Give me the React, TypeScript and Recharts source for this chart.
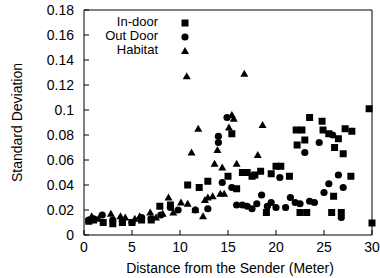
import React from 'react'
import { ScatterChart, Scatter, XAxis, YAxis } from 'recharts'

const FONT = '"Liberation Sans", Arial, Helvetica, sans-serif'

const xTicks = [0, 5, 10, 15, 20, 25, 30]
const yTicks = [0, 0.02, 0.04, 0.06, 0.08, 0.1, 0.12, 0.14, 0.16, 0.18]

const seriesNames = ['In-door', 'Out Door', 'Habitat']

// [distance, std dev]
const indoor = [
  [0.5, 0.011], [1, 0.012], [2, 0.01], [3, 0.009], [4, 0.01], [5, 0.01], [6, 0.012], [7, 0.012],
  [7.9, 0.023], [9, 0.024], [10.8, 0.04], [12, 0.038], [12.9, 0.043], [15, 0.047], [15.4, 0.081],
  [15.9, 0.037], [16.5, 0.05], [17, 0.05], [17.5, 0.047], [17.8, 0.048], [18.4, 0.051], [19, 0.018],
  [19.5, 0.049], [20, 0.055], [20.5, 0.055], [21.4, 0.047], [22.1, 0.084], [22.2, 0.072], [22.5, 0.018],
  [22.7, 0.084], [23, 0.076], [23.2, 0.018], [23.5, 0.094], [24.8, 0.091], [24.9, 0.084], [25.5, 0.081],
  [25.8, 0.018], [26, 0.031], [26.1, 0.07], [26.5, 0.077], [26.8, 0.018], [27, 0.065], [27.2, 0.085],
  [27.8, 0.047], [27.9, 0.083], [29.7, 0.101], [30, 0.0096],
]

const outdoor = [
  [0.5, 0.012], [1, 0.013], [1.9, 0.016], [3, 0.012], [4, 0.011], [5, 0.01], [6, 0.014], [7, 0.013],
  [8, 0.016], [9, 0.022], [9.8, 0.02], [11.6, 0.02], [12.9, 0.021], [14, 0.074], [14, 0.079],
  [14.4, 0.042], [14.9, 0.094], [15.4, 0.038], [15.9, 0.024], [16.5, 0.024], [17, 0.023], [17.5, 0.021],
  [18, 0.025], [18.5, 0.032], [19.1, 0.023], [19.5, 0.026], [20, 0.022], [20.4, 0.046], [21, 0.022],
  [21.5, 0.03], [22, 0.026], [22.5, 0.025], [23, 0.066], [23.5, 0.027], [24, 0.026], [24.5, 0.074],
  [25, 0.034], [25.5, 0.041], [25.9, 0.08], [26.5, 0.048], [26.8, 0.014], [27, 0.038],
]

const habitat = [
  [0.5, 0.012], [0.8, 0.015], [1.5, 0.013], [2.8, 0.017], [3.8, 0.015], [4.3, 0.014], [5.3, 0.013],
  [5.8, 0.015], [6.9, 0.018], [7.5, 0.014], [8.2, 0.017], [8.8, 0.03], [9.3, 0.018], [10.1, 0.026],
  [10.7, 0.127], [10.8, 0.025], [11.2, 0.066], [11.6, 0.02], [11.9, 0.085], [12.4, 0.015], [12.6, 0.028],
  [12.9, 0.03], [13.4, 0.031], [13.6, 0.057], [13.9, 0.068], [14.2, 0.033], [14.4, 0.054], [14.6, 0.033],
  [15.1, 0.086], [15.4, 0.096], [15.6, 0.093], [15.9, 0.057], [16.7, 0.129], [18.1, 0.064], [18.6, 0.088],
]

const toPts = (arr: number[][]) => arr.map(([x, y]) => ({ x, y }))

const SquareShape = (props: any) => {
  const { cx, cy } = props
  return <rect x={cx - 3.5} y={cy - 3.5} width={7} height={7} fill='#000' />
}

const CircleShape = (props: any) => {
  const { cx, cy } = props
  return <circle cx={cx} cy={cy} r={3.6} fill='#000' />
}

const TriangleShape = (props: any) => {
  const { cx, cy } = props
  return <polygon points={`${cx},${cy - 4} ${cx + 4},${cy + 3} ${cx - 4},${cy + 3}`} fill='#000' />
}

const textStyle = { fontFamily: FONT, fontSize: 14, fill: '#000' }

const BottomTick = ({ x, y, payload }: any) => (
  <g>
    <line x1={x} y1={y} x2={x} y2={y - 5} stroke='#000' />
    <text x={x} y={y + 12} textAnchor='middle' dominantBaseline='central' style={textStyle}>
      {payload.value}
    </text>
  </g>
)

const TopTick = ({ x, y }: any) => <line x1={x} y1={y} x2={x} y2={y + 5} stroke='#000' />

const LeftTick = ({ x, y, payload }: any) => (
  <g>
    <line x1={x} y1={y} x2={x + 5} y2={y} stroke='#000' />
    <text x={x - 10} y={y} textAnchor='end' dominantBaseline='central' style={textStyle}>
      {payload.value}
    </text>
  </g>
)

const RightTick = ({ x, y }: any) => <line x1={x} y1={y} x2={x - 5} y2={y} stroke='#000' />

const YLabel = ({ viewBox }: any) => {
  const x = viewBox.x + 17
  const y = viewBox.y + viewBox.height / 2
  return (
    <text x={x} y={y} transform={`rotate(-90 ${x} ${y})`} textAnchor='middle' dominantBaseline='central' style={textStyle}>
      Standard Deviation
    </text>
  )
}

const XLabel = ({ viewBox }: any) => {
  const x = viewBox.x + viewBox.width / 2 + 2
  const y = viewBox.y + 33
  return (
    <text x={x} y={y} textAnchor='middle' dominantBaseline='central' style={textStyle}>
      Distance from the Sender (Meter)
    </text>
  )
}

const markers = [
  <svg width={10} height={10} key='sq'><rect x={1.5} y={1.5} width={7} height={7} fill='#000' /></svg>,
  <svg width={10} height={10} key='ci'><circle cx={5} cy={5} r={3.6} fill='#000' /></svg>,
  <svg width={10} height={10} key='tr'><polygon points='5,1 9,8 1,8' fill='#000' /></svg>,
]

const Legend = () => (
  <div style={{ position: 'absolute', left: 0, top: 14.5, fontFamily: FONT, fontSize: 13 }}>
    {seriesNames.map((name, i) => (
      <div key={name} style={{ height: 14, lineHeight: '14px', display: 'flex', alignItems: 'center' }}>
        <span style={{ display: 'inline-block', width: 158, textAlign: 'right' }}>{name}</span>
        <span style={{ display: 'inline-block', marginLeft: 22, width: 10, height: 10 }}>{markers[i]}</span>
      </div>
    ))}
  </div>
)

export default function App() {
  return (
    <div style={{ position: 'absolute', left: 0, top: 0, width: 380, height: 278, background: '#fff' }}>
      <ScatterChart width={380} height={278} margin={{ top: 0, right: 0, bottom: 0, left: 0 }}>
        <XAxis
          xAxisId='b'
          type='number'
          dataKey='x'
          domain={[0, 30]}
          ticks={xTicks}
          height={43}
          tickSize={0}
          tickMargin={0}
          tick={<BottomTick />}
          axisLine={{ stroke: '#000' }}
          tickLine={false}
          label={<XLabel />}
        />
        <XAxis
          xAxisId='t'
          orientation='top'
          type='number'
          dataKey='x'
          domain={[0, 30]}
          ticks={xTicks}
          height={10}
          tickSize={0}
          tickMargin={0}
          tick={<TopTick />}
          axisLine={{ stroke: '#000' }}
          tickLine={false}
        />
        <YAxis
          yAxisId='l'
          type='number'
          dataKey='y'
          domain={[0, 0.18]}
          ticks={yTicks}
          width={84}
          tickSize={0}
          tickMargin={0}
          tick={<LeftTick />}
          axisLine={{ stroke: '#000' }}
          tickLine={false}
          label={<YLabel />}
        />
        <YAxis
          yAxisId='r'
          orientation='right'
          type='number'
          dataKey='y'
          domain={[0, 0.18]}
          ticks={yTicks}
          width={8}
          tickSize={0}
          tickMargin={0}
          tick={<RightTick />}
          axisLine={{ stroke: '#000' }}
          tickLine={false}
        />
        <Scatter xAxisId='t' yAxisId='r' data={[]} isAnimationActive={false} />
        <Scatter xAxisId='b' yAxisId='l' name='In-door' data={toPts(indoor)} shape={<SquareShape />} isAnimationActive={false} />
        <Scatter xAxisId='b' yAxisId='l' name='Out Door' data={toPts(outdoor)} shape={<CircleShape />} isAnimationActive={false} />
        <Scatter xAxisId='b' yAxisId='l' name='Habitat' data={toPts(habitat)} shape={<TriangleShape />} isAnimationActive={false} />
      </ScatterChart>
      <Legend />
    </div>
  )
}
